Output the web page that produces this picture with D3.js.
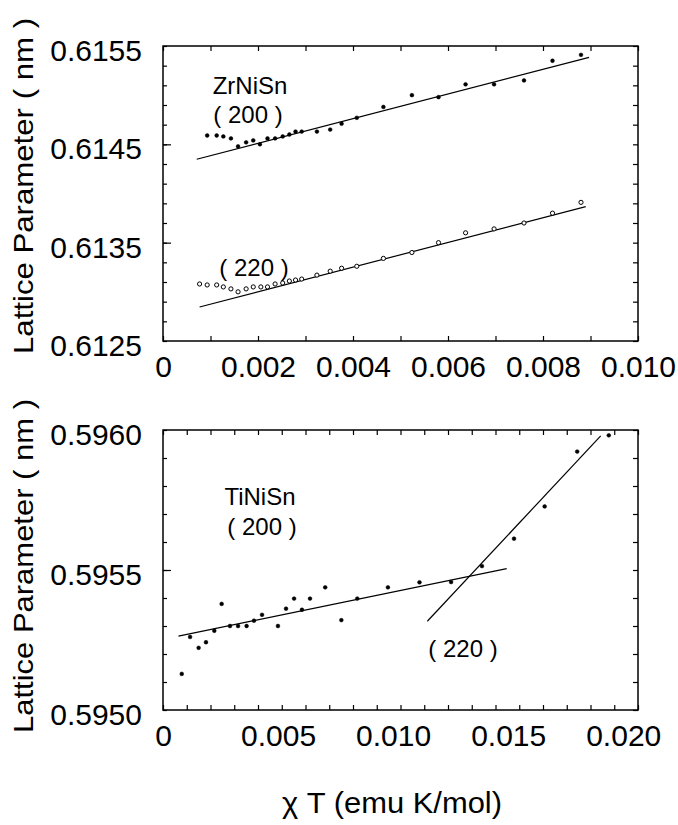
<!DOCTYPE html>
<html>
<head>
<meta charset="utf-8">
<script src="https://cdn.jsdelivr.net/npm/d3@7"></script>
<style>
  html, body { margin: 0; padding: 0; background: #fff; }
  svg { display: block; font-family: "Liberation Sans", Arial, sans-serif; }
</style>
</head>
<body>
<svg id="chart" width="678" height="825"></svg>
<script>
// ---------- Data: ZrNiSn (top panel) ----------
const zrX200 = [0.00093, 0.00113, 0.00127, 0.00143, 0.00158, 0.00175, 0.00190, 0.00204, 0.00220, 0.00236,
                0.00252, 0.00266, 0.00279, 0.00292, 0.00324, 0.00352, 0.00376, 0.00408, 0.00464, 0.00524,
                0.00580, 0.00637, 0.00697, 0.00760, 0.00820, 0.00880];
const zrA200 = [0.61459, 0.61459, 0.61458, 0.61456, 0.61448, 0.61452, 0.61454, 0.61450, 0.61456, 0.61456,
                0.61458, 0.61460, 0.61463, 0.61463, 0.61463, 0.61465, 0.61471, 0.61477, 0.61488, 0.61500,
                0.61498, 0.61511, 0.61511, 0.61515, 0.61535, 0.61541];
const zrX220 = [0.00077, 0.00093, 0.00113, 0.00127, 0.00143, 0.00158, 0.00175, 0.00190, 0.00206, 0.00220,
                0.00236, 0.00252, 0.00266, 0.00279, 0.00292, 0.00324, 0.00352, 0.00376, 0.00408, 0.00464,
                0.00524, 0.00580, 0.00637, 0.00697, 0.00760, 0.00820, 0.00880];
const zrA220 = [0.61308, 0.61307, 0.61307, 0.61305, 0.61303, 0.61300, 0.61303, 0.61305, 0.61305, 0.61305,
                0.61308, 0.61309, 0.61311, 0.61312, 0.61313, 0.61317, 0.61321, 0.61324, 0.61326, 0.61334,
                0.61340, 0.61350, 0.61360, 0.61364, 0.61370, 0.61380, 0.61391];
const zrFit200X = [0.00071, 0.00897];
const zrFit200A = [0.614348, 0.615385];
const zrFit220X = [0.00077, 0.00890];
const zrFit220A = [0.612846, 0.613866];

// ---------- Data: TiNiSn (bottom panel) ----------
const tiX = [0.00079, 0.00114, 0.00150, 0.00181, 0.00216, 0.00247, 0.00282, 0.00316, 0.00352, 0.00383,
             0.00417, 0.00484, 0.00518, 0.00552, 0.00585, 0.00619, 0.00683, 0.00751, 0.00818, 0.00947,
             0.01080, 0.01213, 0.01343, 0.01478, 0.01607, 0.01744, 0.01877];
const tiA = [0.595129, 0.595261, 0.595222, 0.595242, 0.595283, 0.595379, 0.595300, 0.595300, 0.595300, 0.595319,
             0.595340, 0.595300, 0.595362, 0.595398, 0.595358, 0.595398, 0.595438, 0.595321, 0.595398, 0.595438,
             0.595456, 0.595457, 0.595514, 0.595612, 0.595727, 0.595923, 0.595981];
const tiFit200X = [0.00065, 0.01447];
const tiFit200A = [0.595264, 0.595505];
const tiFit220X = [0.01113, 0.01843];
const tiFit220A = [0.595317, 0.595979];

// ---------- Tick labels ----------
const topXTicks = [0, 0.002, 0.004, 0.006, 0.008, 0.010];
const topYTicks = [0.6125, 0.6135, 0.6145, 0.6155];
const botXTicks = [0, 0.005, 0.010, 0.015, 0.020];
const botYTicks = [0.5950, 0.5955, 0.5960];

const yTitleTop = "Lattice Parameter  ( nm )";
const yTitleBot = "Lattice Parameter ( nm )";
const xTitle = "\u03C7 T (emu K/mol)";

// ---------- Drawing ----------
const svg = d3.select("#chart");
const L = 163, R = 638;
const fmtX = v => v === 0 ? "0" : d3.format(".3f")(v);
const fmtY = d3.format(".4f");

function panel(opt) {
  const x = d3.scaleLinear().domain(opt.xDomain).range([L, R]);
  const y = d3.scaleLinear().domain(opt.yDomain).range([opt.bottom, opt.top]);
  const g = svg.append("g");

  const xMinor = d3.range(0, Math.round(opt.xDomain[1] / 0.001) + 1).map(i => i * 0.001);
  const nY = Math.round((opt.yDomain[1] - opt.yDomain[0]) / opt.yStep);
  const yMinor = d3.range(0, nY + 1).map(i => opt.yDomain[0] + i * opt.yStep);

  const tickStyle = sel => {
    sel.select(".domain").remove();
    sel.selectAll(".tick line").attr("stroke", "#000").attr("stroke-width", 1.2);
  };
  // minor ticks on all four sides, pointing inward
  g.append("g").attr("transform", `translate(0,${opt.bottom})`)
    .call(d3.axisBottom(x).tickValues(xMinor).tickSize(-5).tickFormat("")).call(tickStyle);
  g.append("g").attr("transform", `translate(0,${opt.top})`)
    .call(d3.axisTop(x).tickValues(xMinor).tickSize(-5).tickFormat("")).call(tickStyle);
  g.append("g").attr("transform", `translate(${L},0)`)
    .call(d3.axisLeft(y).tickValues(yMinor).tickSize(-4).tickFormat("")).call(tickStyle);
  g.append("g").attr("transform", `translate(${R},0)`)
    .call(d3.axisRight(y).tickValues(yMinor).tickSize(-5).tickFormat("")).call(tickStyle);
  // longer inner major y ticks
  g.append("g").attr("transform", `translate(${L},0)`)
    .call(d3.axisLeft(y).tickValues(opt.yTicks.slice(1, -1)).tickSize(-8).tickFormat("")).call(tickStyle);

  // labels
  const xl = g.append("g").attr("transform", `translate(0,${opt.bottom})`)
    .call(d3.axisBottom(x).tickValues(opt.xTicks).tickSize(0).tickFormat(fmtX));
  xl.select(".domain").remove();
  xl.selectAll("text").attr("y", 36).attr("dy", null).attr("dx", (d, i) => -opt.labelDrift * i)
    .attr("font-size", 30).attr("font-family", "Liberation Sans, Arial, sans-serif").attr("fill", "#000");

  const yl = g.append("g").attr("transform", `translate(${L},0)`)
    .call(d3.axisLeft(y).tickValues(opt.yTicks).tickSize(0).tickFormat(fmtY));
  yl.select(".domain").remove();
  yl.selectAll("text").attr("x", -21).attr("dy", null).attr("y", 14.5)
    .attr("font-size", 30).attr("font-family", "Liberation Sans, Arial, sans-serif").attr("fill", "#000");

  // frame
  g.append("rect").attr("x", L).attr("y", opt.top).attr("width", R - L).attr("height", opt.bottom - opt.top)
    .attr("fill", "none").attr("stroke", "#000").attr("stroke-width", 1.5);

  return { x, y, g };
}

function fitLine(p, xs, as) {
  const line = d3.line().x(d => p.x(d[0])).y(d => p.y(d[1]));
  p.g.append("path").datum(d3.zip(xs, as)).attr("d", line)
    .attr("fill", "none").attr("stroke", "#000").attr("stroke-width", 1.2);
}
function dots(p, xs, as, open) {
  p.g.append("g").selectAll("circle").data(d3.zip(xs, as)).join("circle")
    .attr("cx", d => p.x(d[0])).attr("cy", d => p.y(d[1]))
    .attr("r", open ? 2.1 : 1.9)
    .attr("fill", open ? "#fff" : "#000")
    .attr("stroke", "#000").attr("stroke-width", open ? 1 : 0.5);
}
function label(txt, x, y, size) {
  svg.append("text").attr("x", x).attr("y", y).attr("text-anchor", "middle")
    .attr("font-size", size || 24).attr("fill", "#000").text(txt);
}

// Top panel
const topPanel = panel({ xDomain: [0, 0.010], yDomain: [0.6125, 0.6155], top: 46, bottom: 341,
  yStep: 0.0002, xTicks: topXTicks, yTicks: topYTicks, labelDrift: 0 });
fitLine(topPanel, zrFit200X, zrFit200A);
fitLine(topPanel, zrFit220X, zrFit220A);
dots(topPanel, zrX200, zrA200, false);
dots(topPanel, zrX220, zrA220, true);
label("ZrNiSn", 250, 94);
label("( 200 )", 248, 123);
label("( 220 )", 254, 276);

// Bottom panel
const botPanel = panel({ xDomain: [0, 0.020], yDomain: [0.5950, 0.5960], top: 430, bottom: 710,
  yStep: 0.0001, xTicks: botXTicks, yTicks: botYTicks, labelDrift: 3.7 });
fitLine(botPanel, tiFit200X, tiFit200A);
fitLine(botPanel, tiFit220X, tiFit220A);
dots(botPanel, tiX, tiA, false);
label("TiNiSn", 260, 505);
label("( 200 )", 262, 535);
label("( 220 )", 463, 657);

// Axis titles
svg.append("text").attr("transform", "translate(33,186) rotate(-90)").attr("text-anchor", "middle")
  .attr("font-size", 28).attr("textLength", 336).attr("lengthAdjust", "spacingAndGlyphs").text(yTitleTop);
svg.append("text").attr("transform", "translate(33,566) rotate(-90)").attr("text-anchor", "middle")
  .attr("font-size", 28).attr("textLength", 334).attr("lengthAdjust", "spacingAndGlyphs").text(yTitleBot);
svg.append("text").attr("x", 392).attr("y", 813).attr("text-anchor", "middle")
  .attr("font-size", 29).attr("textLength", 220).attr("lengthAdjust", "spacingAndGlyphs").text(xTitle);
</script>
</body>
</html>
